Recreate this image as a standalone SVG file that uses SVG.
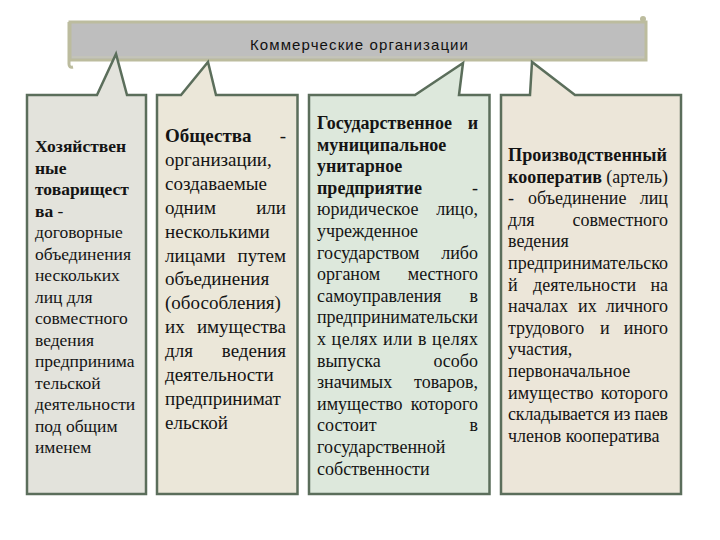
<svg xmlns="http://www.w3.org/2000/svg" width="720" height="540" viewBox="0 0 720 540">
<style>
.box{stroke:#5b6e5b;stroke-width:2.5;stroke-linejoin:miter}
.t{font-family:"Liberation Serif","Times New Roman",serif;fill:#141414}
.b{font-weight:bold}
.s1{font-size:17.5px}
.s2{font-size:19px}
.s3{font-size:18px}
.e{text-anchor:end}
</style>
<rect width="720" height="540" fill="#ffffff"/>
<g id="banner">
  <path d="M70,22 H646 V60 H70 Z" fill="#bebebe" stroke="#bcbc9e" stroke-width="3"/>
  <path d="M69,22 V64 Q69,68 73,67" fill="none" stroke="#bcbc9e" stroke-width="3"/>
  <circle cx="643" cy="19" r="3" fill="#bcbc9e"/>
  <line x1="72" y1="57" x2="644" y2="57" stroke="#c9c9b4" stroke-width="1"/>
  <text x="359" y="50" text-anchor="middle" font-family="'Liberation Sans',Arial,sans-serif" font-size="15" fill="#111" textLength="218" lengthAdjust="spacing">Коммерческие организации</text>
</g>
<g id="connectors"></g>
<g id="node1">
  <path class="box" fill="#e3e3dc" d="M27,95 H97 L116,54 L127,95 H146 V494 H27 Z"/>
  <g class="t s1">
    <text x="35" y="152" class="b">Хозяйствен</text>
    <text x="35" y="173.5" class="b">ные</text>
    <text x="35" y="195" class="b">товарищест</text>
    <text x="35" y="216.5"><tspan class="b">ва</tspan> -</text>
    <text x="35" y="238">договорные</text>
    <text x="35" y="259.5">объединения</text>
    <text x="35" y="281">нескольких</text>
    <text x="35" y="302.5">лиц для</text>
    <text x="35" y="324">совместного</text>
    <text x="35" y="345.5">ведения</text>
    <text x="35" y="367">предпринима</text>
    <text x="35" y="388.5">тельской</text>
    <text x="35" y="410">деятельности</text>
    <text x="35" y="431.5">под общим</text>
    <text x="35" y="453">именем</text>
  </g>
</g>
<g id="node2">
  <path class="box" fill="#ebe7d9" d="M157,95 H181 L208,62 L216,95 H297.5 V494 H157 Z"/>
  <g class="t s2">
    <text x="165" y="142" class="b">Общества</text><text x="286" y="142" class="e">-</text>
    <text x="165" y="165.9">организации,</text>
    <text x="165" y="189.8">создаваемые</text>
    <text x="165" y="213.7">одним</text><text x="286" y="213.7" class="e">или</text>
    <text x="165" y="237.6">несколькими</text>
    <text x="165" y="261.5">лицами</text><text x="286" y="261.5" class="e">путем</text>
    <text x="165" y="285.4">объединения</text>
    <text x="165" y="309.3">(обособления)</text>
    <text x="165" y="333.2">их</text><text x="286" y="333.2" class="e">имущества</text>
    <text x="165" y="357.1">для</text><text x="286" y="357.1" class="e">ведения</text>
    <text x="165" y="381">деятельности</text>
    <text x="165" y="404.9">предпринимат</text>
    <text x="165" y="428.8">ельской</text>
  </g>
</g>
<g id="node3">
  <path class="box" fill="#dde8dc" d="M309,95 H415 L463,63 L459,95 H489.5 V494 H309 Z"/>
  <g class="t s3">
    <text x="317" y="129" class="b">Государственное</text><text x="478" y="129" class="b e">и</text>
    <text x="317" y="150.6" class="b">муниципальное</text>
    <text x="317" y="172.2" class="b">унитарное</text>
    <text x="317" y="193.8" class="b">предприятие</text><text x="478" y="193.8" class="e">-</text>
    <text x="317" y="215.4">юридическое</text><text x="478" y="215.4" class="e">лицо,</text>
    <text x="317" y="237">учрежденное</text>
    <text x="317" y="258.6">государством</text><text x="478" y="258.6" class="e">либо</text>
    <text x="317" y="280.2">органом</text><text x="478" y="280.2" class="e">местного</text>
    <text x="317" y="301.8">самоуправления</text><text x="478" y="301.8" class="e">в</text>
    <text x="317" y="323.4" textLength="161" lengthAdjust="spacing">предпринимательски</text>
    <text x="317" y="345" textLength="161" lengthAdjust="spacing">х целях или в целях</text>
    <text x="317" y="366.6">выпуска</text><text x="478" y="366.6" class="e">особо</text>
    <text x="317" y="388.2">значимых</text><text x="478" y="388.2" class="e">товаров,</text>
    <text x="317" y="409.8">имущество</text><text x="478" y="409.8" class="e">которого</text>
    <text x="317" y="431.4">состоит</text><text x="478" y="431.4" class="e">в</text>
    <text x="317" y="453">государственной</text>
    <text x="317" y="474.6">собственности</text>
  </g>
</g>
<g id="node4">
  <path class="box" fill="#ece6d9" d="M501,95 H530 L532,62 L575,95 H681 V494 H501 Z"/>
  <g class="t s3">
    <text x="508" y="161" class="b" textLength="159" lengthAdjust="spacingAndGlyphs">Производственный</text>
    <text x="508" y="182.6" class="b">кооператив</text><text x="668" y="182.6" class="e">(артель)</text>
    <text x="508" y="204.2">-</text><text x="528" y="204.2">объединение</text><text x="668" y="204.2" class="e">лиц</text>
    <text x="508" y="225.8">для</text><text x="668" y="225.8" class="e">совместного</text>
    <text x="508" y="247.4">ведения</text>
    <text x="508" y="269" textLength="160" lengthAdjust="spacing">предпринимательско</text>
    <text x="508" y="290.6">й</text><text x="533" y="290.6">деятельности</text><text x="668" y="290.6" class="e">на</text>
    <text x="508" y="312.2">началах</text><text x="578" y="312.2">их</text><text x="668" y="312.2" class="e">личного</text>
    <text x="508" y="333.8">трудового</text><text x="600" y="333.8">и</text><text x="668" y="333.8" class="e">иного</text>
    <text x="508" y="355.4">участия,</text>
    <text x="508" y="377">первоначальное</text>
    <text x="508" y="398.6">имущество</text><text x="668" y="398.6" class="e">которого</text>
    <text x="508" y="420.2" textLength="160" lengthAdjust="spacing">складывается из паев</text>
    <text x="508" y="441.8">членов кооператива</text>
  </g>
</g>
</svg>
